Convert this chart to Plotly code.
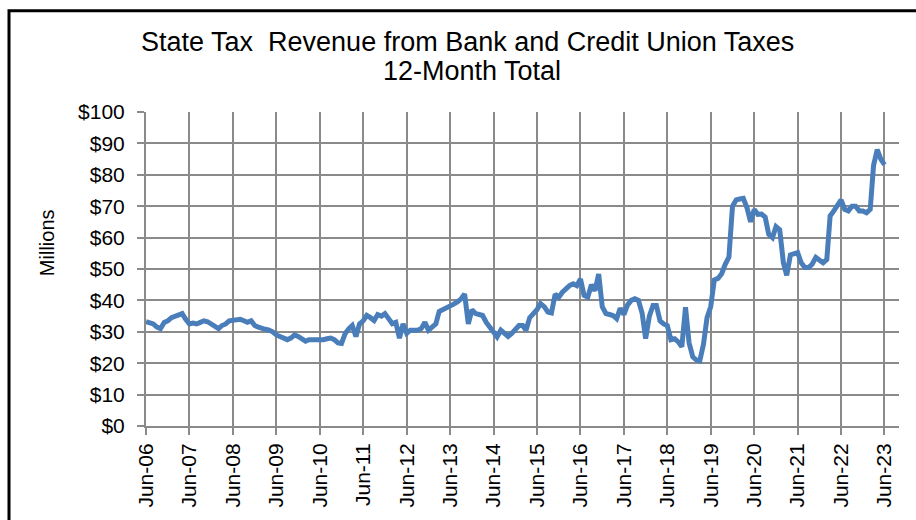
import pandas as pd
import plotly.graph_objects as go

# ---- data (millions of dollars, 12-month total), monthly Jun-06 .. Jun-23 ----
start_month = "2006-06-01"
revenue = [
    33.2, 33.0, 32.5, 31.5, 31.0, 33.0, 33.5, 34.5, 35.0, 35.3, 35.8, 34.0, 32.5,
    32.8, 32.5, 33.0, 33.5, 33.2, 32.5, 31.5, 31.0, 32.0, 32.5, 33.5, 33.6,
    34.0, 34.0, 33.5, 33.0, 33.5, 32.0, 31.5, 31.0, 30.8, 30.5, 30.0, 29.0,
    28.5, 28.3, 27.5, 28.0, 29.0, 28.5, 27.5, 27.0, 27.5, 27.5, 27.3, 27.3,
    27.5, 27.8, 28.0, 27.5, 26.5, 26.3, 29.5, 31.0, 32.0, 28.5, 32.5, 33.5,
    35.2, 34.5, 33.6, 35.5, 35.0, 35.8, 34.0, 32.6, 33.0, 28.0, 32.5, 29.5,
    30.5, 30.5, 30.5, 31.0, 33.0, 30.5, 31.5, 32.5, 36.5, 37.0, 37.5, 38.4,
    38.8, 39.5, 40.5, 42.0, 32.5, 37.0, 35.8, 35.5, 35.2, 33.0, 31.5, 30.5,
    28.4, 30.5, 29.5, 28.5, 29.5, 30.5, 32.0, 32.0, 30.5, 34.5, 35.5, 37.0,
    39.0, 38.0, 36.3, 36.0, 42.0, 41.0, 42.6, 44.0, 44.7, 45.3, 44.7, 46.8,
    41.6, 41.0, 45.0, 43.1, 48.4, 38.0, 35.8, 35.5, 35.2, 34.2, 37.5, 35.5,
    38.5, 40.0, 40.5, 40.0, 36.0, 27.8, 35.0, 38.4, 38.4, 33.5, 32.5, 32.0,
    27.5, 27.8, 26.8, 25.2, 37.8, 26.5, 22.0, 21.0, 20.7, 26.0, 34.5, 38.0,
    46.5, 47.0, 48.5, 51.5, 53.8, 70.0, 72.0, 72.3, 72.5, 69.5, 65.0, 69.0,
    67.4, 67.5, 66.5, 61.0, 60.0, 63.5, 62.5, 52.0, 48.0, 54.5, 55.0, 55.2,
    52.0, 50.5, 50.5, 51.5, 53.7, 52.8, 52.0, 53.0, 66.9, 68.5, 70.5, 72.0,
    69.0, 68.5, 70.0, 70.0, 68.5, 68.5, 67.9, 69.0, 83.0, 88.0, 85.0, 83.2,
]
months = pd.date_range(start_month, periods=len(revenue), freq="MS")

tick_years = list(range(2006, 2024))
tick_dates = [f"{y}-06-01" for y in tick_years]
tick_labels = [f"Jun-{y % 100:02d}" for y in tick_years]

y_ticks = list(range(0, 101, 10))
y_labels = [f"${v}" for v in y_ticks]

title_line1 = "State Tax&nbsp; Revenue from Bank and Credit Union Taxes"
title_line2 = "12-Month Total"
y_title = "Millions"

# ---- layout geometry ----
W, H = 916, 520
L, R, T, B = 146, 17, 112, 92
pw, ph = W - L - R, H - T - B


def px(xp):
    return (xp - L) / pw


def py(yp):
    return (H - B - yp) / ph


FONT = "Liberation Sans, Arial, sans-serif"
GRID = "#8a8a8a"

fig = go.Figure()
fig.add_trace(go.Scatter(
    x=months, y=revenue, mode="lines",
    line=dict(color="#4a7ebb", width=5),
    hoverinfo="x+y", showlegend=False,
))

fig.update_layout(
    width=W, height=H,
    margin=dict(l=L, r=R, t=T, b=B, pad=0),
    paper_bgcolor="white", plot_bgcolor="white",
    font=dict(family=FONT, color="#000000"),
    xaxis=dict(
        type="date",
        range=["2006-06-01", "2023-10-01"],
        tickmode="array", tickvals=tick_dates, ticktext=tick_labels,
        tickangle=-90, tickfont=dict(size=21, family=FONT, color="#000"),
        ticks="outside", ticklen=7, tickwidth=2, tickcolor=GRID,
        showgrid=True, gridcolor=GRID, gridwidth=2,
        showline=True, linecolor=GRID, linewidth=2,
        zeroline=False, fixedrange=True,
    ),
    yaxis=dict(
        range=[0, 100],
        tickmode="array", tickvals=y_ticks, ticktext=y_labels,
        tickfont=dict(size=21, family=FONT, color="#000"),
        ticks="outside", ticklen=7, tickwidth=2, tickcolor=GRID,
        ticklabelstandoff=8,
        showgrid=True, gridcolor=GRID, gridwidth=2,
        showline=True, linecolor=GRID, linewidth=2,
        zeroline=False, fixedrange=True,
    ),
    annotations=[
        dict(text=title_line1, xref="paper", yref="paper",
             x=px(467), y=py(42), xanchor="center", yanchor="middle",
             showarrow=False, font=dict(size=27, family=FONT, color="#000")),
        dict(text=title_line2, xref="paper", yref="paper",
             x=px(472), y=py(71), xanchor="center", yanchor="middle",
             showarrow=False, font=dict(size=27, family=FONT, color="#000")),
        dict(text=y_title, xref="paper", yref="paper",
             x=px(47), y=py(244), xanchor="center", yanchor="middle",
             textangle=-90, showarrow=False,
             font=dict(size=20, family=FONT, color="#000")),
    ],
    shapes=[
        dict(type="path", xref="paper", yref="paper",
             path=f"M {px(9)} {py(530)} L {px(9)} {py(10)} L {px(925)} {py(10)}",
             line=dict(color="#000000", width=3)),
    ],
)

fig.write_html(
    "out.html",
    config={"displayModeBar": False},
    post_script="document.body.style.margin='0';document.body.style.overflow='hidden';",
)
